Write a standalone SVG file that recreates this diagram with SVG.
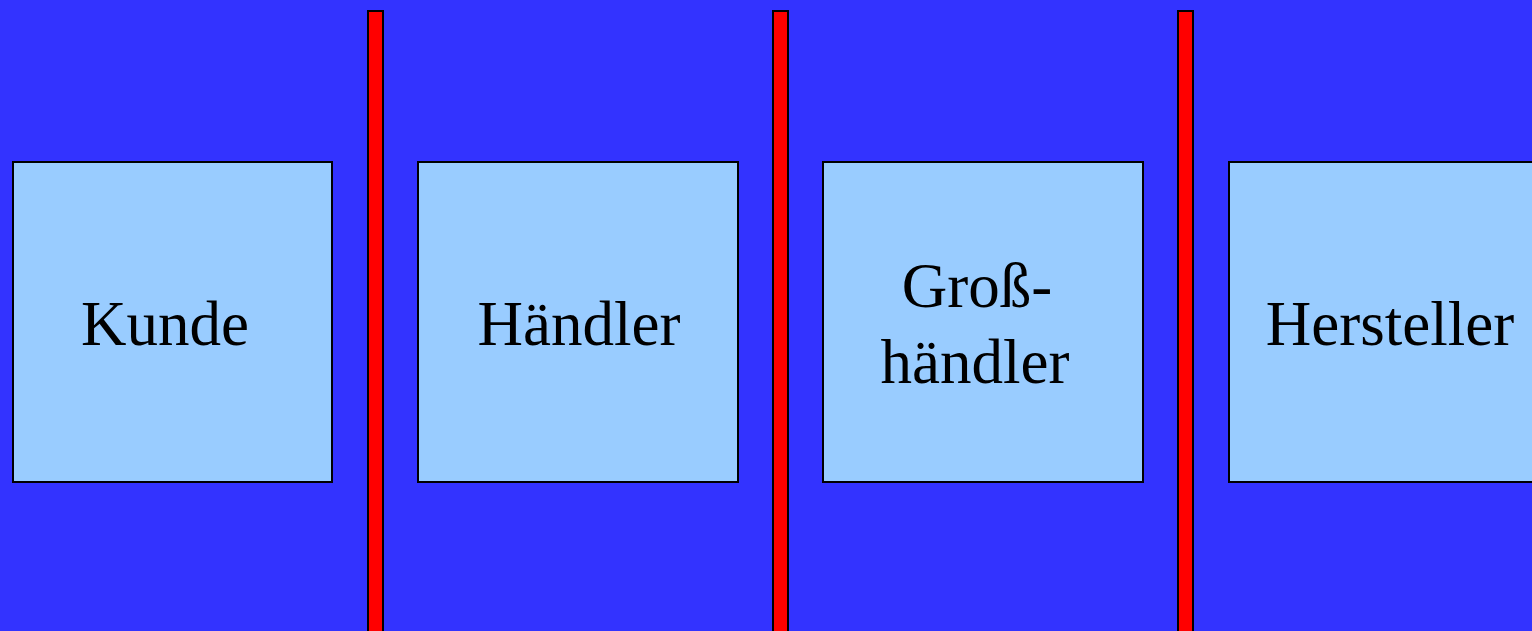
<svg xmlns="http://www.w3.org/2000/svg" width="1532" height="631" viewBox="0 0 1532 631">
  <style>
    .box { fill: #99ccff; stroke: #000; stroke-width: 2; }
    .bar { fill: #ff0000; stroke: #000; stroke-width: 2; }
    .lbl { font-family: "Liberation Serif", "Times New Roman", serif; font-size: 63px; fill: #000; text-anchor: middle; }
  </style>
  <rect x="0" y="0" width="1532" height="631" fill="#3333ff"/>
  <g id="separators">
    <rect class="bar" x="368" y="11" width="15" height="630"/>
    <rect class="bar" x="773" y="11" width="15" height="630"/>
    <rect class="bar" x="1178" y="11" width="15" height="630"/>
  </g>
  <g id="kunde">
    <rect class="box" x="13" y="162" width="319" height="320"/>
    <text class="lbl" x="165" y="345">Kunde</text>
  </g>
  <g id="haendler">
    <rect class="box" x="418" y="162" width="320" height="320"/>
    <text class="lbl" x="579" y="345">Händler</text>
  </g>
  <g id="grosshaendler">
    <rect class="box" x="823" y="162" width="320" height="320"/>
    <text class="lbl" x="977" y="307">Groß-</text>
    <text class="lbl" x="975" y="383">händler</text>
  </g>
  <g id="hersteller">
    <rect class="box" x="1229" y="162" width="320" height="320"/>
    <text class="lbl" x="1390" y="345">Hersteller</text>
  </g>
</svg>
